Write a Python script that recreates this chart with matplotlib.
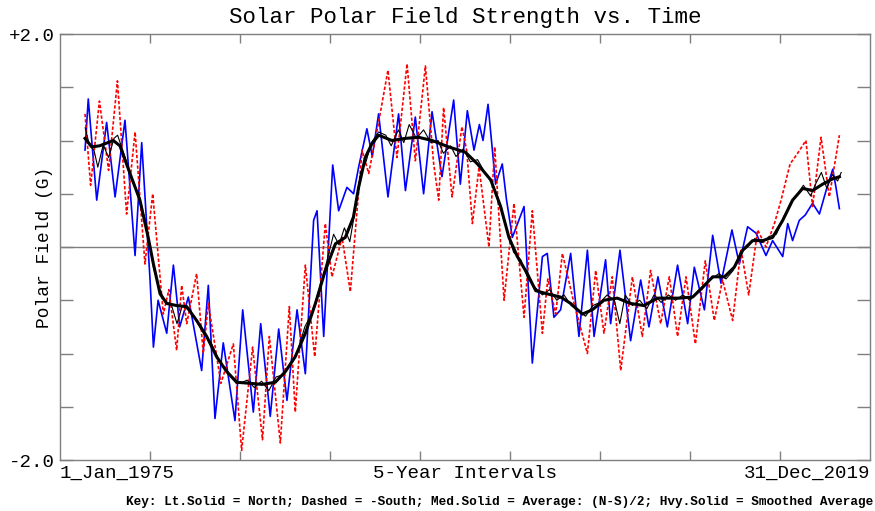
import numpy as np
import matplotlib.pyplot as plt

# North field (blue, light solid) - years / Gauss
north_t = [1976.39, 1976.57, 1977.04, 1977.59, 1978.06, 1978.61, 1979.17, 1979.54, 1980.0, 1980.19,
           1980.45, 1980.93, 1981.30, 1981.65, 1982.13, 1982.87, 1983.24, 1983.61, 1984.07, 1984.72,
           1985.15, 1985.74, 1986.15, 1986.68, 1987.15, 1987.61, 1988.17, 1988.63, 1989.09, 1989.28,
           1989.65, 1990.15, 1990.48, 1990.94, 1991.31, 1991.59, 1992.05, 1992.35, 1992.70, 1993.22,
           1993.81, 1994.19, 1994.74, 1995.20, 1995.67, 1996.22, 1996.87, 1997.24, 1997.63, 1998.00,
           1998.30, 1998.50, 1998.78, 1999.20, 1999.57, 1999.80, 2000.13, 2000.78, 2001.24, 2001.80,
           2002.07, 2002.44, 2002.81, 2003.37, 2003.83, 2004.30, 2004.67, 2005.31, 2005.59, 2006.11,
           2006.70, 2007.26, 2007.72, 2008.22, 2008.74, 2009.31, 2009.87, 2010.24, 2010.80, 2011.26,
           2011.72, 2012.33, 2012.74, 2013.20, 2013.67, 2014.22, 2014.59, 2015.15, 2015.43, 2015.70,
           2016.07, 2016.40, 2016.81, 2017.19, 2017.56, 2017.93, 2018.11, 2018.30]
north_v = [0.91, 1.39, 0.44, 1.17, 0.47, 1.19, -0.08, 0.98, -0.30, -0.94,
           -0.50, -0.81, -0.17, -0.75, -0.47, -1.16, -0.36, -1.61, -0.90, -1.63,
           -0.59, -1.55, -0.72, -1.59, -0.77, -1.44, -0.59, -1.19, 0.25, 0.34,
           -0.84, 0.77, 0.34, 0.56, 0.50, 0.75, 1.11, 0.85, 1.25, 0.47,
           1.25, 0.53, 1.22, 0.50, 1.27, 0.66, 1.38, 0.59, 1.28, 0.91,
           1.15, 1.00, 1.34, 0.59, 0.78, 0.45, 0.09, 0.38, -1.09, -0.09,
           -0.06, -0.66, -0.59, -0.06, -0.84, -0.03, -0.84, -0.12, -0.72, -0.03,
           -0.88, -0.31, -0.75, -0.28, -0.75, -0.17, -0.72, -0.19, -0.59, 0.11,
           -0.34, 0.16, -0.16, 0.19, 0.13, -0.08, 0.06, -0.09, 0.22, 0.06,
           0.25, 0.30, 0.41, 0.31, 0.53, 0.73, 0.56, 0.36]

# minus South field (red, dashed)
south_t = [1976.39, 1976.70, 1977.19, 1977.70, 1978.19, 1978.70, 1979.17, 1979.72, 1980.15, 1980.74,
           1981.05, 1981.48, 1981.76, 1982.04, 1982.59, 1982.96, 1983.24, 1983.94, 1984.63, 1985.09,
           1985.70, 1986.25, 1986.63, 1987.24, 1987.74, 1988.07, 1988.63, 1989.15, 1989.74, 1990.11,
           1990.67, 1991.13, 1991.78, 1992.15, 1992.70, 1993.22, 1993.72, 1994.28, 1994.74, 1995.30,
           1995.76, 1996.04, 1996.31, 1996.78, 1997.33, 1997.60, 1997.91, 1998.28, 1998.83, 1999.15,
           1999.67, 2000.22, 2000.78, 2001.24, 2001.80, 2002.10, 2002.54, 2002.91, 2003.56, 2004.30,
           2004.76, 2005.22, 2005.68, 2006.15, 2006.80, 2007.35, 2007.81, 2008.37, 2008.85, 2009.31,
           2009.78, 2010.30, 2010.85, 2011.35, 2011.81, 2012.37, 2012.83, 2013.26, 2013.76, 2014.22,
           2014.69, 2015.06, 2015.56, 2015.98, 2016.44, 2016.81, 2017.28, 2017.74, 2018.30]
south_v = [1.25, 0.58, 1.37, 0.72, 1.56, 0.31, 1.08, -0.16, 0.50, -0.63,
           -0.40, -0.97, -0.36, -0.72, -0.25, -1.00, -0.53, -1.28, -0.91, -1.91,
           -0.94, -1.81, -0.84, -1.84, -0.56, -1.55, -0.17, -1.03, 0.22, -0.28,
           0.09, -0.42, 0.91, 0.69, 1.17, 1.66, 0.84, 1.72, 0.81, 1.70,
           0.78, 0.44, 1.31, 0.47, 1.13, 0.90, 0.22, 0.75, 0.00, 0.94,
           -0.50, 0.41, -0.66, 0.34, -0.81, -0.30, -0.63, -0.06, -0.53, -1.00,
           -0.22, -0.81, -0.28, -1.16, -0.28, -0.84, -0.22, -0.72, -0.28, -0.84,
           -0.28, -0.91, -0.13, -0.69, -0.31, -0.69, -0.02, -0.45, 0.16, 0.00,
           0.22, 0.44, 0.78, 0.88, 1.00, 0.38, 1.03, 0.47, 1.05]

# average (N-S)/2 (thin black)
avg_t = [1976.4, 1976.6, 1976.9, 1977.1, 1977.4, 1977.7, 1978.0, 1978.2, 1978.6, 1979.0,
         1979.4, 1979.8, 1980.2, 1980.5, 1980.8, 1981.2, 1981.5, 1981.8, 1982.2, 1982.6,
         1983.0, 1983.4, 1983.8, 1984.2, 1984.6, 1985.0, 1985.4, 1985.8, 1986.2, 1986.6,
         1987.0, 1987.4, 1987.8, 1988.2, 1988.6, 1989.0, 1989.4, 1989.8, 1990.2, 1990.5,
         1990.8, 1991.1, 1991.4, 1991.7, 1992.0, 1992.3, 1992.7, 1993.1, 1993.4, 1993.8,
         1994.1, 1994.4, 1994.8, 1995.2, 1995.6, 1996.0, 1996.3, 1996.7, 1997.0, 1997.4,
         1997.8, 1998.2, 1998.6, 1999.0, 1999.4, 1999.8, 2000.2, 2000.6, 2001.0, 2001.4,
         2001.8, 2002.2, 2002.6, 2003.0, 2003.4, 2003.8, 2004.2, 2004.6, 2005.0, 2005.4,
         2005.8, 2006.1, 2006.4, 2006.8, 2007.2, 2007.6, 2008.0, 2008.4, 2008.8, 2009.2,
         2009.6, 2010.0, 2010.4, 2010.8, 2011.2, 2011.6, 2012.0, 2012.4, 2012.8, 2013.2,
         2013.6, 2014.0, 2014.4, 2014.8, 2015.2, 2015.6, 2016.0, 2016.3, 2016.7, 2017.0,
         2017.3, 2017.6, 2017.9, 2018.2, 2018.4]
avg_v = [1.12, 0.98, 0.90, 0.75, 0.96, 0.84, 1.02, 1.05, 0.85, 0.62,
         0.48, 0.20, -0.20, -0.38, -0.50, -0.55, -0.72, -0.55, -0.60, -0.70,
         -0.82, -0.90, -1.05, -1.15, -1.22, -1.28, -1.25, -1.32, -1.26, -1.35,
         -1.22, -1.20, -1.10, -0.98, -0.75, -0.62, -0.40, -0.15, 0.12, 0.02,
         0.18, 0.05, 0.35, 0.70, 0.80, 0.98, 1.08, 1.05, 0.95, 1.10,
         0.98, 1.15, 1.02, 1.10, 0.98, 1.00, 0.88, 0.95, 0.85, 0.92,
         0.80, 0.82, 0.70, 0.60, 0.40, 0.18, -0.05, -0.12, -0.30, -0.38,
         -0.45, -0.40, -0.50, -0.45, -0.55, -0.60, -0.65, -0.55, -0.52, -0.45,
         -0.50, -0.72, -0.45, -0.55, -0.50, -0.58, -0.45, -0.52, -0.45, -0.50,
         -0.45, -0.50, -0.42, -0.35, -0.30, -0.25, -0.30, -0.22, -0.05, 0.00,
         0.08, 0.04, 0.10, 0.12, 0.28, 0.42, 0.50, 0.58, 0.48, 0.60,
         0.70, 0.55, 0.68, 0.62, 0.70]

# smoothed average (heavy black)
smooth_t = [1976.39, 1976.76, 1977.20, 1977.96, 1978.33, 1978.89, 1979.44, 1979.90, 1980.19, 1980.56,
            1980.93, 1981.48, 1982.04, 1982.59, 1983.15, 1983.70, 1984.26, 1984.81, 1985.56, 1986.22,
            1986.96, 1987.52, 1988.07, 1988.63, 1989.19, 1989.74, 1990.30, 1990.85, 1991.30, 1991.59,
            1991.96, 1992.33, 1992.70, 1993.44, 1994.19, 1994.93, 1995.67, 1996.59, 1997.52, 1998.19,
            1998.93, 1999.48, 1999.94, 2000.41, 2000.96, 2001.43, 2002.07, 2002.81, 2003.37, 2004.02,
            2004.57, 2005.22, 2005.96, 2006.70, 2007.44, 2008.19, 2008.83, 2009.41, 2010.15, 2010.70,
            2011.26, 2011.91, 2012.46, 2012.93, 2013.48, 2014.04, 2014.59, 2015.15, 2015.70, 2016.26,
            2016.81, 2017.37, 2017.93, 2018.30]
smooth_v = [1.02, 0.94, 0.95, 1.00, 0.95, 0.69, 0.44, 0.09, -0.16, -0.44,
            -0.53, -0.55, -0.56, -0.69, -0.84, -1.03, -1.17, -1.27, -1.28, -1.29,
            -1.27, -1.17, -1.03, -0.81, -0.53, -0.22, 0.03, 0.09, 0.28, 0.56,
            0.84, 0.97, 1.05, 1.00, 1.02, 1.03, 1.00, 0.94, 0.89, 0.78,
            0.63, 0.38, 0.09, -0.09, -0.25, -0.41, -0.44, -0.47, -0.53, -0.63,
            -0.59, -0.50, -0.48, -0.53, -0.55, -0.48, -0.48, -0.48, -0.47, -0.38,
            -0.28, -0.28, -0.19, -0.03, 0.06, 0.06, 0.09, 0.25, 0.44, 0.55,
            0.53, 0.59, 0.64, 0.66]

MONO = "Liberation Mono"
GRAY = "#7f7f7f"

fig = plt.figure(figsize=(8.75, 5.11), dpi=100)
ax = fig.add_axes([60 / 875, 1 - 460 / 511, 810 / 875, 426 / 511])

ax.axhline(0, color=GRAY, lw=1.0, zorder=1)
ax.plot(north_t, north_v, color="#0000ff", lw=1.2, zorder=2)
ax.plot(south_t, south_v, color="#ff0000", lw=1.2, ls=(0, (2, 1.2)), zorder=3)
ax.plot(avg_t, avg_v, color="black", lw=0.8, zorder=4)
ax.plot(smooth_t, smooth_v, color="black", lw=2.2, zorder=5)

ax.set_xlim(1975, 2020)
ax.set_ylim(-2, 2)
ax.set_xticks(np.arange(1980, 2020, 5))
ax.set_xticklabels([])
ax.set_yticks(np.arange(-2, 2.01, 0.5))
ax.set_yticklabels(["-2.0", "", "", "", "", "", "", "", "+2.0"], family=MONO, fontsize=13.8)
ax.tick_params(axis="y", direction="in", length=9.5, width=1, color=GRAY, left=True, right=True, pad=4)
ax.tick_params(axis="x", direction="in", length=6.5, width=1, color=GRAY, bottom=True, top=True)
for s in ax.spines.values():
    s.set_color(GRAY)
    s.set_linewidth(1.0)

ax.text(0, -0.012, "1_Jan_1975", transform=ax.transAxes, ha="left", va="top",
        family=MONO, fontsize=13.8)
ax.text(0.5, -0.012, "5-Year Intervals", transform=ax.transAxes, ha="center", va="top",
        family=MONO, fontsize=13.8)
ax.text(1, -0.012, "31_Dec_2019", transform=ax.transAxes, ha="right", va="top",
        family=MONO, fontsize=13.8)
ax.text(-0.019, 0.5, "Polar Field (G)", transform=ax.transAxes, rotation=90,
        ha="center", va="center", family=MONO, fontsize=12.9)

fig.text(465 / 875, 1 - 18 / 511, "Solar Polar Field Strength vs. Time", ha="center", va="center",
         family=MONO, fontsize=16.2)
fig.text(873 / 875, 1 - 502 / 511,
         "Key: Lt.Solid = North; Dashed = -South; Med.Solid = Average: (N-S)/2; Hvy.Solid = Smoothed Average",
         ha="right", va="center", family=MONO, fontsize=9.2, fontweight="bold")

fig.savefig("out.png", dpi=100, facecolor="white")
